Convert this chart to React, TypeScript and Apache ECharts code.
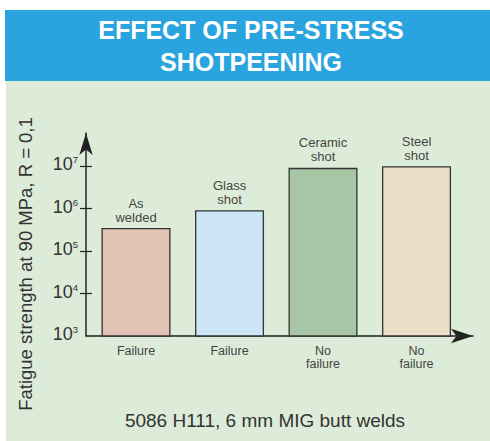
import React, { useEffect, useRef } from "react";
import * as echarts from "echarts";

// ---- data ----
const categories = ["As\nwelded", "Glass\nshot", "Ceramic\nshot", "Steel\nshot"];
const outcomes = ["Failure", "Failure", "No\nfailure", "No\nfailure"];
const cyclesToFailure = [3.5e5, 9.2e5, 9.2e6, 1.0e7];
const tickExponents = [3, 4, 5, 6, 7];
const barColors = ["#e3c2b6", "#cbe5f6", "#a6c6a5", "#ecdfc8"];
const titleLines = ["EFFECT OF PRE-STRESS", "SHOTPEENING"];
const yAxisTitle = "Fatigue strength at 90 MPa, R = 0,1";
const footnote = "5086 H111, 6 mm MIG butt welds";

const FONT = "'Liberation Sans', Arial, Helvetica, sans-serif";

export default function App() {
  const ref = useRef<HTMLDivElement>(null);
  useEffect(() => {
    if (!ref.current) return;
    const chart = echarts.init(ref.current, null, { renderer: "svg" });
    const axisColor = "#222";
    chart.setOption({
      animation: false,
      backgroundColor: "#ffffff",
      textStyle: { fontFamily: FONT },
      graphic: [
        { type: "rect", z: -10, shape: { x: 5, y: 10, width: 485, height: 71 }, style: { fill: "#29a4de" } },
        { type: "rect", z: -10, shape: { x: 6, y: 81, width: 484, height: 360 }, style: { fill: "#ddecd8" } },
        {
          type: "text", x: 251, y: 30,
          style: { text: titleLines[0], fill: "#ffffff", font: `bold 25px ${FONT}`, align: "center", verticalAlign: "middle" },
        },
        {
          type: "text", x: 251, y: 62,
          style: { text: titleLines[1], fill: "#ffffff", font: `bold 25px ${FONT}`, align: "center", verticalAlign: "middle" },
        },
        {
          type: "text", x: 25, y: 264, rotation: Math.PI / 2,
          style: { text: yAxisTitle, fill: "#333", font: `18.5px ${FONT}`, align: "center", verticalAlign: "middle" },
        },
        {
          type: "text", x: 265, y: 420.5,
          style: { text: footnote, fill: "#333", font: `19px ${FONT}`, align: "center", verticalAlign: "middle" },
        },
      ],
      grid: { left: 86, right: 17, top: 133, bottom: 105 },
      xAxis: {
        type: "value",
        min: -0.535,
        max: 3.604,
        splitLine: { show: false },
        axisTick: { show: false },
        axisLine: {
          show: true,
          onZero: false,
          lineStyle: { color: axisColor, width: 1.5 },
          symbol: ["none", "arrow"],
          symbolSize: [11, 22],
        },
        axisLabel: {
          customValues: [0, 1, 2, 3],
          formatter: (v: number) => outcomes[Math.round(v)] ?? "",
          color: "#444",
          fontSize: 12.5,
          lineHeight: 13,
          margin: 8,
        },
      },
      yAxis: [
        {
          type: "value",
          min: 3,
          max: 7.785,
          position: "left",
          splitLine: { show: false },
          axisLine: {
            show: true,
            onZero: false,
            lineStyle: { color: axisColor, width: 1.5 },
            symbol: ["none", "arrow"],
            symbolSize: [10, 22],
          },
          axisTick: {
            show: true,
            customValues: tickExponents.slice(1),
            length: 6,
            lineStyle: { color: axisColor, width: 1.2 },
          },
          axisLabel: {
            customValues: tickExponents,
            margin: 8,
            padding: [0, 0, 4, 0],
            formatter: (v: number) => `{a|10}{b|${Math.round(v)}}`,
            rich: {
              a: { fontSize: 18, lineHeight: 19, color: "#333", fontFamily: FONT },
              b: { fontSize: 9.5, lineHeight: 12, verticalAlign: "top", color: "#333", fontFamily: FONT },
            },
          },
        },
        {
          type: "value",
          min: 3,
          max: 7.785,
          position: "left",
          offset: 0,
          splitLine: { show: false },
          axisLine: { show: true, onZero: false, lineStyle: { color: axisColor, width: 1.5, opacity: 0 } },
          axisLabel: { show: false, customValues: tickExponents.slice(1) },
          axisTick: {
            show: true,
            inside: true,
            customValues: tickExponents.slice(1),
            length: 6,
            lineStyle: { color: axisColor, width: 1.2 },
          },
        },
      ],
      series: [
        {
          type: "bar",
          yAxisIndex: 0,
          barWidth: 69,
          clip: true,
          data: cyclesToFailure.map((v, i) => ({
            value: [i, Math.log10(v)],
            itemStyle: { color: barColors[i] },
          })),
          itemStyle: { borderColor: "#333", borderWidth: 1.3 },
          label: {
            show: true,
            position: "top",
            distance: 4,
            formatter: (p: any) => categories[p.dataIndex],
            color: "#444",
            fontSize: 13,
            lineHeight: 14,
          },
        },
      ],
    });
    return () => chart.dispose();
  }, []);
  return (
    <div
      ref={ref}
      style={{ position: "absolute", left: 0, top: 0, width: 490, height: 441 }}
    />
  );
}
